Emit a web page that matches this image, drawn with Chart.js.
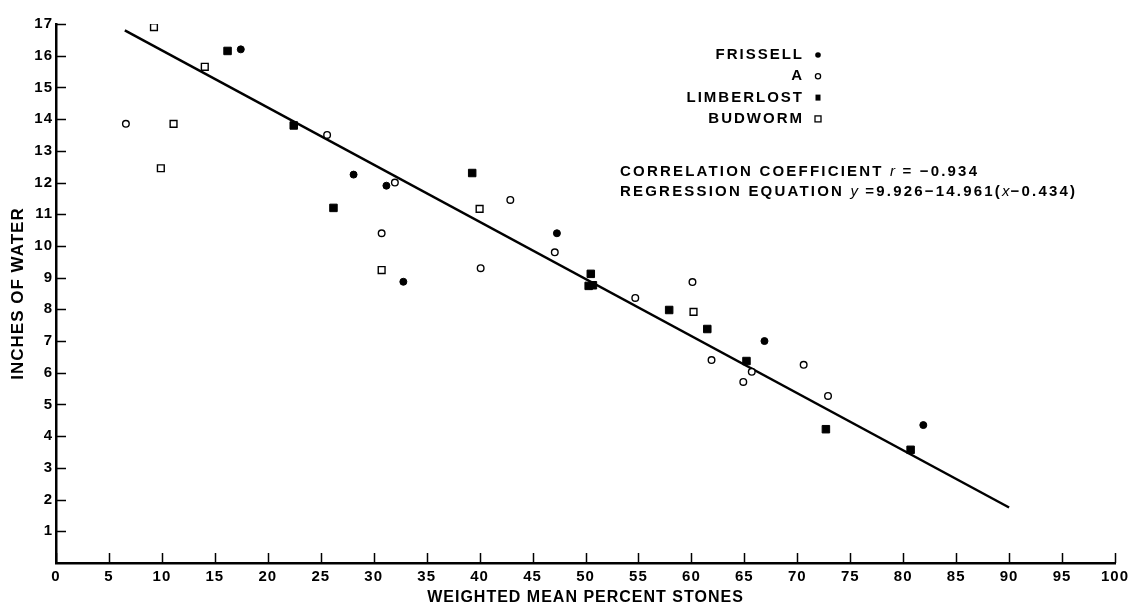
<!DOCTYPE html>
<html>
<head>
<meta charset="utf-8">
<title>Inches of water vs weighted mean percent stones</title>
<script src="https://cdn.jsdelivr.net/npm/chart.js@4/dist/chart.umd.min.js"></script>
<style>
  html, body { margin: 0; padding: 0; background: #fff; }
  #wrap { width: 1137px; height: 609px; }
</style>
</head>
<body>
<div id="wrap"><canvas id="stonesChart" width="1137" height="609"></canvas></div>
<script>
// values (x = weighted mean percent stones, y = inches of water)
const frissellX = [17.45, 28.1, 31.2, 32.8, 47.3, 66.9, 81.9];
const frissellY = [16.2, 12.25, 11.9, 8.87, 10.4, 7.0, 4.35];

const aX = [6.6, 25.6, 32.0, 30.75, 42.9, 40.1, 47.1, 54.7, 60.1, 61.9, 65.7, 64.9, 70.6, 72.9];
const aY = [13.85, 13.5, 12.0, 10.4, 11.45, 9.3, 9.8, 8.36, 8.86, 6.4, 6.03, 5.71, 6.25, 5.27];

const limberlostX = [16.2, 22.45, 26.2, 39.3, 50.5, 50.3, 50.7, 57.9, 61.5, 65.2, 72.7, 80.7];
const limberlostY = [16.15, 13.8, 11.2, 12.3, 9.12, 8.74, 8.76, 7.98, 7.38, 6.37, 4.22, 3.57];

const budwormX = [9.25, 9.9, 11.1, 14.05, 30.75, 40.0, 60.2];
const budwormY = [16.9, 12.45, 13.85, 15.65, 9.24, 11.17, 7.92];

// fitted line as drawn (end points)
const fitX = [6.5, 90];
const fitY = [16.8, 1.75];

const seriesNames = ["FRISSELL", "A", "LIMBERLOST", "BUDWORM"];
const statLines = [
  "CORRELATION COEFFICIENT r = \u22120.934",
  "REGRESSION EQUATION y =9.926\u221214.961(x\u22120.434)",
];
const xTickValues = [0, 5, 10, 15, 20, 25, 30, 35, 40, 45, 50, 55, 60, 65, 70, 75, 80, 85, 90, 95, 100];
const yTickValues = [1, 2, 3, 4, 5, 6, 7, 8, 9, 10, 11, 12, 13, 14, 15, 16, 17];

const FONT = "'Liberation Sans', Arial, sans-serif";

function toPoints(xs, ys) {
  return xs.map((x, i) => ({ x: x, y: ys[i] }));
}

// wider letter spacing like the typewritten original
const spacingPlugin = {
  id: "spacing",
  beforeDraw(chart) {
    chart.ctx.letterSpacing = "1px";
  },
};

// inward tick marks, legend and the statistics text
const paperPlugin = {
  id: "paper",
  afterDraw(chart) {
    const c = chart.ctx;
    const xs = chart.scales.x;
    const ys = chart.scales.y;
    const area = chart.chartArea;
    c.save();
    c.strokeStyle = "#000";
    c.lineWidth = 1.5;
    c.beginPath();
    yTickValues.forEach((v) => {
      const py = Math.round(ys.getPixelForValue(v)) + 0.5;
      c.moveTo(area.left, py);
      c.lineTo(area.left + 10, py);
    });
    xTickValues.forEach((v) => {
      const px = Math.round(xs.getPixelForValue(v)) + 0.5;
      c.moveTo(px, area.bottom);
      c.lineTo(px, area.bottom - 10);
    });
    c.stroke();

    // legend: labels right aligned, marker after
    c.fillStyle = "#000";
    c.font = "bold 15px " + FONT;
    c.letterSpacing = "2px";
    c.textAlign = "right";
    c.textBaseline = "middle";
    const legendRight = 804;
    const markerX = 818;
    seriesNames.forEach((name, i) => {
      const y = 55 + i * 21.3;
      c.fillText(name, legendRight, y);
      c.beginPath();
      c.lineWidth = 1.3;
      if (i === 0) {
        c.arc(markerX, y, 2.8, 0, Math.PI * 2);
        c.fill();
      } else if (i === 1) {
        c.arc(markerX, y, 2.6, 0, Math.PI * 2);
        c.stroke();
      } else if (i === 2) {
        c.fillRect(markerX - 2.5, y - 3, 5, 6);
      } else {
        c.strokeRect(markerX - 3, y - 3, 6, 6);
      }
    });

    // statistics, single variable letters in italic
    c.textAlign = "left";
    statLines.forEach((line, i) => {
      let x = 620;
      const y = 172 + i * 20;
      line.split(/(\b[rxy]\b)/).forEach((piece) => {
        if (!piece) return;
        const italic = /^[rxy]$/.test(piece);
        c.font = (italic ? "italic " : "bold ") + "15px " + FONT;
        c.letterSpacing = italic ? "1px" : "2.2px";
        c.fillText(piece, x, y);
        x += c.measureText(piece).width;
      });
    });
    c.restore();
  },
};

document.addEventListener("DOMContentLoaded", () => {
  const ctx = document.getElementById("stonesChart").getContext("2d");
  const stonesChart = new Chart(ctx, {
    type: "scatter",
    data: {
      datasets: [
        {
          label: "FRISSELL",
          data: toPoints(frissellX, frissellY),
          pointStyle: "circle",
          pointRadius: 3.5,
          backgroundColor: "#000",
          borderColor: "#000",
          borderWidth: 1,
        },
        {
          label: "A",
          data: toPoints(aX, aY),
          pointStyle: "circle",
          pointRadius: 3.3,
          backgroundColor: "#fff",
          borderColor: "#000",
          borderWidth: 1.4,
        },
        {
          label: "LIMBERLOST",
          data: toPoints(limberlostX, limberlostY),
          pointStyle: "rect",
          pointRadius: 5.3,
          backgroundColor: "#000",
          borderColor: "#000",
          borderWidth: 1,
        },
        {
          label: "BUDWORM",
          data: toPoints(budwormX, budwormY),
          pointStyle: "rect",
          pointRadius: 4.8,
          backgroundColor: "#fff",
          borderColor: "#000",
          borderWidth: 1.4,
        },
        {
          type: "line",
          label: "fit",
          data: toPoints(fitX, fitY),
          borderColor: "#000",
          borderWidth: 2.5,
          pointRadius: 0,
          fill: false,
        },
      ],
    },
    options: {
      responsive: false,
      animation: false,
      layout: { padding: { left: 0, top: 24, right: 22, bottom: 0 } },
      plugins: {
        legend: { display: false },
        tooltip: { enabled: false },
      },
      scales: {
        x: {
          type: "linear",
          min: 0,
          max: 100,
          afterFit: (scale) => { scale.height = 46; },
          afterBuildTicks: (scale) => { scale.ticks = xTickValues.map((v) => ({ value: v })); },
          grid: { display: false, drawTicks: false },
          border: { display: true, color: "#000", width: 2.5 },
          ticks: {
            color: "#000",
            padding: 5,
            maxRotation: 0,
            autoSkip: false,
            font: { family: FONT, size: 15, weight: "bold" },
          },
          title: {
            display: true,
            text: "WEIGHTED MEAN PERCENT STONES",
            color: "#000",
            padding: { top: 0, bottom: 2 },
            font: { family: FONT, size: 16, weight: "bold" },
          },
        },
        y: {
          type: "linear",
          min: 0,
          max: 17,
          afterFit: (scale) => { scale.width = 56; },
          afterBuildTicks: (scale) => { scale.ticks = yTickValues.map((v) => ({ value: v })); },
          grid: { display: false, drawTicks: false },
          border: { display: true, color: "#000", width: 2.5 },
          ticks: {
            color: "#000",
            padding: 3,
            autoSkip: false,
            font: { family: FONT, size: 15, weight: "bold" },
          },
          title: {
            display: true,
            text: "INCHES OF WATER",
            color: "#000",
            padding: { top: 8, bottom: 0 },
            font: { family: FONT, size: 17, weight: "bold" },
          },
        },
      },
    },
    plugins: [spacingPlugin, paperPlugin],
  });
});
</script>
</body>
</html>
